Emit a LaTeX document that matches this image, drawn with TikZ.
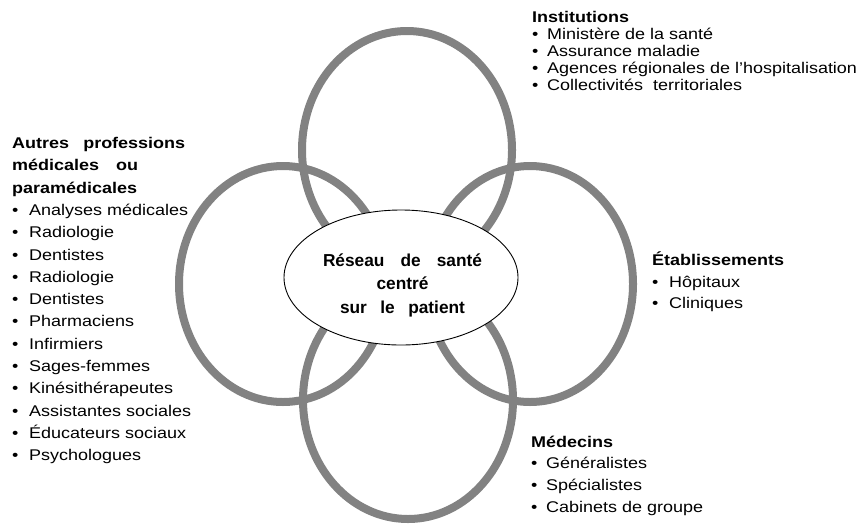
\documentclass[tikz,border=0pt]{standalone}
\usepackage{fontspec}
\setmainfont{Liberation Sans}[FakeStretch=1.16]
\newfontfamily\hubfont{Liberation Sans}
\usetikzlibrary{shapes.geometric}
\definecolor{ringgray}{RGB}{130,130,130}
\newcommand\itm{\makebox[17pt][l]{•}}
\newcommand\itmn{\makebox[15pt][l]{•}}
\tikzset{
  ring/.style={ellipse, draw=ringgray, line width=8pt, inner sep=0pt,
               minimum width=210pt, minimum height=238pt},
  hub/.style={ellipse, draw=black, line width=0.9pt, fill=white, inner sep=0pt,
              minimum width=234pt, minimum height=135pt},
  hubtxt/.style={anchor=base, inner sep=0pt, font=\hubfont\fontsize{17.3}{18}\selectfont\bfseries},
  lbl/.style={anchor=base west, inner sep=0pt, font=\fontsize{15.5}{18}\selectfont},
  hdr/.style={lbl, font=\fontsize{15.5}{18}\selectfont\bfseries}
}
\begin{document}
\begin{tikzpicture}[x=1pt,y=-1pt]
\useasboundingbox (0,0) rectangle (866,531);
% rings
\node[ring] (rtop) at (407,150) {};
\node[ring] (rbot) at (408,400) {};
\node[ring, minimum width=208pt, minimum height=236pt] (rleft) at (283,284) {};
\node[ring, minimum width=206pt, minimum height=236pt] (rright) at (530,284) {};
% hub
\node[hub] (hub) at (401,277.5) {};
\node[hubtxt] (h1) at (402.5,266) {\makebox[159pt][s]{Réseau\hfill de\hfill santé}};
\node[hubtxt] (h2) at (402.5,289.5) {centré};
\node[hubtxt] (h3) at (402.5,313.5) {\makebox[125pt][s]{sur\hfill le\hfill patient}};
% left block
\node[hdr] (a1) at (12,148.5) {\makebox[173pt][s]{Autres\hfill professions}};
\node[hdr] (a2) at (12,170.8) {\makebox[126pt][s]{médicales\hfill ou}};
\node[hdr] (a3) at (12,193.1) {paramédicales};
\foreach \t [count=\i] in {Analyses médicales, Radiologie, Dentistes, Radiologie, Dentistes,
  Pharmaciens, Infirmiers, Sages-femmes, Kinésithérapeutes, Assistantes sociales,
  Éducateurs sociaux, Psychologues}
  \node[lbl] (al\i) at (12,193.1+22.3*\i) {\itm\t};
% institutions
\node[hdr] (i0) at (532,22.5) {Institutions};
\foreach \t [count=\i] in {Ministère de la santé, Assurance maladie,
  Agences régionales de l'hospitalisation, Collectivités\ \ territoriales}
  \node[lbl] (il\i) at (532,22.5+17*\i) {\itmn\t};
% etablissements
\node[hdr] (e0) at (652,265.5) {Établissements};
\foreach \t [count=\i] in {Hôpitaux, Cliniques}
  \node[lbl] (el\i) at (652,265.5+21.5*\i) {\itm\t};
% medecins
\node[hdr] (m0) at (531,447) {Médecins};
\foreach \t [count=\i] in {Généralistes, Spécialistes, Cabinets de groupe}
  \node[lbl] (ml\i) at (531,447+21.8*\i) {\itmn\t};
\end{tikzpicture}
\end{document}
